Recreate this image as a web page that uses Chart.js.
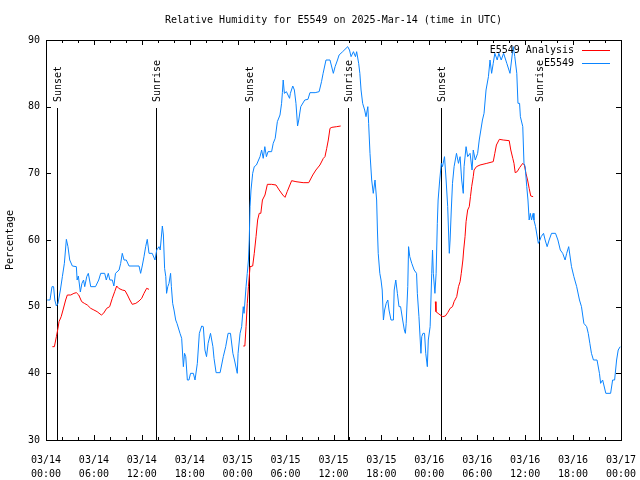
<!DOCTYPE html>
<html>
<head>
<meta charset="utf-8">
<script src="https://cdn.jsdelivr.net/npm/chart.js@4"></script>
<style>
  html, body { margin: 0; padding: 0; background: #fff; }
  #wrap { width: 640px; height: 480px; }
</style>
</head>
<body>
<div id="wrap"><canvas id="rhChart" width="640" height="480"></canvas></div>
<script>
// Hours since 03/14 00:00 UTC
const stationHours = [0.15,0.5,0.75,0.95,1.1,1.3,1.5,1.8,2.05,2.3,2.55,2.75,2.97,3.3,3.8,3.9,4.05,4.3,4.5,4.7,4.85,5.1,5.3,5.6,6.2,6.6,6.85,7.35,7.55,7.8,8.0,8.3,8.5,8.7,9.15,9.35,9.55,9.77,10.05,10.4,11.65,11.85,12.05,12.27,12.48,12.68,12.9,13.3,13.65,13.86,14.15,14.3,14.57,14.7,14.85,15.0,15.1,15.25,15.4,15.6,15.7,15.86,16.03,16.24,16.4,16.78,16.99,17.2,17.35,17.5,17.7,17.9,18.1,18.45,18.66,18.95,19.2,19.5,19.7,19.9,20.1,20.3,20.6,20.9,21.04,21.3,21.8,22.2,22.5,22.8,23.1,23.4,23.6,23.95,24.05,24.3,24.5,24.7,24.8,25.05,25.2,25.35,25.45,25.55,25.67,25.88,26.08,26.35,26.8,27.0,27.2,27.4,27.6,27.8,28.25,28.45,28.7,28.97,29.3,29.5,29.6,29.7,29.85,30.1,30.5,30.6,30.9,31.1,31.3,31.5,31.65,31.9,32.4,32.8,33.05,33.7,34.2,34.5,34.7,35.06,35.56,35.98,36.2,36.5,36.7,37.15,37.78,38.0,38.2,38.5,38.75,38.9,39.15,39.3,39.45,39.65,39.9,40.07,40.3,40.4,40.57,40.78,40.98,41.2,41.4,41.5,41.6,41.8,41.95,42.1,42.25,42.4,42.6,42.8,42.95,43.2,43.5,43.6,43.8,44.0,44.2,44.4,44.66,44.87,45.0,45.1,45.3,45.4,45.55,45.8,46.1,46.4,46.5,46.7,46.95,47.05,47.2,47.4,47.55,47.75,47.87,48.1,48.3,48.4,48.5,48.7,48.85,49.0,49.1,49.3,49.5,49.65,49.9,50.1,50.3,50.5,50.6,50.75,50.9,51.1,51.4,51.65,51.85,52.05,52.25,52.35,52.6,52.8,53.1,53.35,53.5,53.75,54.05,54.25,54.45,54.65,54.85,55.1,55.4,55.6,55.8,56.0,56.2,56.5,56.7,57.0,57.3,57.7,58.1,58.3,58.5,58.7,58.95,59.1,59.3,59.4,59.7,59.85,60.0,60.2,60.35,60.5,60.65,60.8,61.0,61.1,61.3,61.65,61.85,62.0,62.3,62.5,62.75,63.0,63.3,63.8,64.1,64.4,64.7,65.0,65.2,65.45,65.8,66.1,66.45,66.8,67.05,67.35,67.7,67.9,68.1,68.3,68.55,69.0,69.3,69.45,69.7,69.85,70.1,70.7,70.95,71.2,71.45,71.65,71.9];
const stationRH = [51,51,53,53,51,50.1,50.5,52.5,54.5,56.5,60.1,59,57,56.1,56,54,54.6,52.2,53.5,54,53,54.5,55,53,53,54,55,55,54,55,54,54,53.1,55,55.5,56.5,58,57,57,56.1,56.1,55,56.1,57.5,59,60.1,58,58,57,58.5,59,58.5,62.1,60.75,55.75,54.5,52,53,53.5,55,53,50.5,49.5,48,47.5,46,45.25,41,43,42.5,39,39,40,40,39,41.5,46,47.1,47,43.5,42.5,44.5,46,44,42.25,40.1,40.1,42.5,44,46,46,43,42,40,43,46,47,50,49,53,55,57,60,65,67.5,70,71,71.25,72.5,73.5,72.25,74,72.5,73.25,73.25,74.5,75.25,77.75,78.75,80.5,82.1,84,82,82.25,81.25,82,83.1,82.5,80.5,77.1,78,80,81,81.1,82.1,82.1,82.25,83.75,85,87,87,85,86,87,87.75,88.25,89,88.5,87.5,88.25,87.5,88.25,86.5,85,82.5,80.5,79.5,78.5,80,77.5,73,69,67,69,66,61.5,58,55,54,52.5,48,49.5,50.5,51,49.5,48,48,52.5,54,52,50,50,48,46.5,46,47.5,53,59,57.5,56.5,55.5,55,52,48.5,43,45.5,46,46,43,41,45,47,55,58.5,55,52,55,62.5,66,69,71.5,71,72.5,69,65,58,60,64.5,68.5,71,73,71.5,72.5,69,67,71,74,72.5,73,70.5,73.5,72,73,75,76.5,78,79,82.5,84.5,87,85,86.5,88,87,88,87,88,86.5,85,87,89,87.5,85,80.5,80.5,78.5,77,71.5,71,68,66,63,64,63,64,63,62,59.5,60,60.5,61,60,59,60,61,61,60,58.5,58,57,58,59,56,54.5,53,51,50,47.5,47,46,44.5,43,42,42,40,38.5,39,38.25,37,37,39,39,42,43.5,44];

// null entries mark the gaps in the analysis series
const analysisHours = [0.8,1.05,1.3,1.5,1.63,1.9,2.13,2.46,2.67,3.1,3.5,3.8,4.1,4.47,4.8,5.17,5.6,6.0,6.4,6.93,7.2,7.6,7.97,8.3,8.6,8.85,9.1,9.55,9.9,10.2,10.5,10.8,11.25,11.65,11.98,12.27,12.6,12.9,
  18,
  24.7,24.9,25.05,25.2,25.35,25.55,25.88,26.08,26.3,26.5,26.7,26.9,27.1,27.42,27.72,28.25,28.8,29.2,29.65,29.93,30.2,30.76,31.3,32.2,32.9,33.4,33.8,34.3,34.73,34.93,35.15,35.35,35.56,35.8,36.4,36.9,
  42,
  48.75,48.83,49.2,49.67,50.0,50.3,50.6,50.9,51.1,51.43,51.65,51.85,52.0,52.2,52.3,52.47,52.6,52.8,53.0,53.15,53.3,53.5,53.6,53.9,54.35,55.2,56.0,56.2,56.4,56.77,57.25,58.0,58.2,58.45,58.6,58.75,59.0,59.3,59.7,59.9,60.1,60.3,60.5,60.7,61.0];
const analysisRH = [44,44,45.5,46.75,47.75,48.5,49.5,51,51.75,51.75,52,52.1,51.75,50.75,50.5,50.25,49.75,49.5,49.25,48.75,49,49.75,50,51.25,52.25,53.1,52.75,52.5,52.4,51.75,51,50.35,50.5,50.85,51.25,52,52.75,52.6,
  null,
  44.1,44.1,47,50.5,53,56,56.1,58,60.5,63,64,64,66,66.75,68.35,68.35,68.25,67.5,66.75,66.4,67.25,68.9,68.75,68.6,68.6,69.75,70.5,71.25,72.25,72.5,73.75,75,76.75,76.9,77,77.1,
  null,
  50.75,49.25,48.9,48.5,48.6,49.1,49.75,50,50.75,51.5,53,53.75,55,57,58.5,60.5,62.75,64.5,65,66.5,68,69.5,70.5,71,71.25,71.5,71.75,73,74.25,75.1,75,74.9,73.5,72.25,71.5,70.1,70.25,70.85,71.5,71.25,70,69,67.75,66.6,66.5];

const sunHours = [1.42, 13.81, 25.46, 37.78, 49.5, 61.77];
const sunLabels = ['Sunset', 'Sunrise', 'Sunset', 'Sunrise', 'Sunset', 'Sunrise'];

const xTickLabels = [
  ['03/14', '00:00'], ['03/14', '06:00'], ['03/14', '12:00'], ['03/14', '18:00'],
  ['03/15', '00:00'], ['03/15', '06:00'], ['03/15', '12:00'], ['03/15', '18:00'],
  ['03/16', '00:00'], ['03/16', '06:00'], ['03/16', '12:00'], ['03/16', '18:00'],
  ['03/17', '00:00']
];

const seriesNames = ['E5549 Analysis', 'E5549'];
const titleText = 'Relative Humidity for E5549 on 2025-Mar-14 (time in UTC)';

const FONT = '10px "DejaVu Sans Mono", monospace';
const red = '#ff0000';
const blue = '#0a84ff';

const toPoints = (xs, ys) => xs.map((h, i) => ({ x: h, y: ys[i] }));

// gnuplot-like frame, ticks, sun markers, title and legend
const gnuplotDecor = {
  id: 'gnuplotDecor',
  beforeDatasetsDraw(chart) {
    const { ctx, chartArea: a, scales: { x } } = chart;
    ctx.save();
    ctx.strokeStyle = '#000';
    ctx.fillStyle = '#000';
    ctx.lineWidth = 1;
    ctx.font = FONT;
    sunHours.forEach((h, i) => {
      const px = Math.round(x.getPixelForValue(h)) + 0.5;
      ctx.beginPath();
      ctx.moveTo(px, a.top + 68);
      ctx.lineTo(px, a.bottom);
      ctx.stroke();
      ctx.save();
      ctx.translate(px + 1, a.top + 62);
      ctx.rotate(-Math.PI / 2);
      ctx.textAlign = 'left';
      ctx.textBaseline = 'middle';
      ctx.fillText(sunLabels[i], 0, 0);
      ctx.restore();
    });
    ctx.restore();
  },
  afterDraw(chart) {
    const { ctx, chartArea: a, scales: { x, y } } = chart;
    ctx.save();
    ctx.strokeStyle = '#000';
    ctx.lineWidth = 1;
    ctx.beginPath();
    // x ticks, major every 6 h, minor every 2 h, mirrored on top
    for (let h = 0; h <= 72; h += 2) {
      const px = Math.round(x.getPixelForValue(h)) + 0.5;
      const len = h % 6 === 0 ? 5 : 3;
      ctx.moveTo(px, a.bottom); ctx.lineTo(px, a.bottom - len);
      ctx.moveTo(px, a.top); ctx.lineTo(px, a.top + len);
    }
    for (let v = 40; v < 90; v += 10) {
      const py = Math.round(y.getPixelForValue(v)) + 0.5;
      ctx.moveTo(a.left, py); ctx.lineTo(a.left + 5, py);
      ctx.moveTo(a.right, py); ctx.lineTo(a.right - 5, py);
    }
    ctx.stroke();
    ctx.strokeRect(Math.round(a.left) + 0.5, Math.round(a.top) + 0.5,
      Math.round(a.right - a.left), Math.round(a.bottom - a.top));

    ctx.fillStyle = '#000';
    ctx.font = FONT;
    ctx.textAlign = 'center';
    ctx.textBaseline = 'middle';
    ctx.fillText(titleText, (a.left + a.right) / 2, 20);

    ctx.save();
    ctx.translate(10, (a.top + a.bottom) / 2);
    ctx.rotate(-Math.PI / 2);
    ctx.fillText('Percentage', 0, 0);
    ctx.restore();

    // legend
    const colors = [red, blue];
    ctx.textAlign = 'right';
    seriesNames.forEach((name, i) => {
      const ly = a.top + 10 + i * 13;
      ctx.fillStyle = '#000';
      ctx.fillText(name, a.right - 47, ly);
      ctx.strokeStyle = colors[i];
      ctx.beginPath();
      ctx.moveTo(a.right - 39, Math.round(ly) + 0.5);
      ctx.lineTo(a.right - 11, Math.round(ly) + 0.5);
      ctx.stroke();
    });
    ctx.restore();
  }
};

new Chart(document.getElementById('rhChart'), {
  type: 'line',
  data: {
    datasets: [{
      label: seriesNames[0],
      data: toPoints(analysisHours, analysisRH),
      borderColor: red,
      borderWidth: 1,
      pointRadius: 0,
      tension: 0,
      spanGaps: false,
      order: 1
    }, {
      label: seriesNames[1],
      data: toPoints(stationHours, stationRH),
      borderColor: blue,
      borderWidth: 1,
      pointRadius: 0,
      tension: 0,
      order: 0
    }]
  },
  options: {
    responsive: false,
    animation: false,
    devicePixelRatio: 1,
    parsing: false,
    layout: { padding: { left: 0, top: 40, right: 19, bottom: 0 } },
    plugins: {
      legend: { display: false },
      title: { display: false },
      tooltip: { enabled: false }
    },
    scales: {
      x: {
        type: 'linear',
        min: 0,
        max: 72,
        grid: { display: false, drawTicks: false },
        border: { display: false },
        afterFit: s => { s.height = 40; s.paddingLeft = 0; s.paddingRight = 0; },
        ticks: {
          stepSize: 2,
          autoSkip: false,
          maxRotation: 0,
          padding: 13,
          color: '#000',
          font: { family: '"DejaVu Sans Mono", monospace', size: 10, lineHeight: 1.4 },
          callback: v => (v % 6 === 0 ? xTickLabels[v / 6] : '')
        }
      },
      y: {
        min: 30,
        max: 90,
        grid: { display: false, drawTicks: false },
        border: { display: false },
        afterFit: s => { s.width = 46; s.paddingTop = 0; s.paddingBottom = 0; },
        ticks: {
          stepSize: 10,
          padding: 6,
          color: '#000',
          font: { family: '"DejaVu Sans Mono", monospace', size: 10 }
        }
      }
    }
  },
  plugins: [gnuplotDecor]
});
</script>
</body>
</html>
